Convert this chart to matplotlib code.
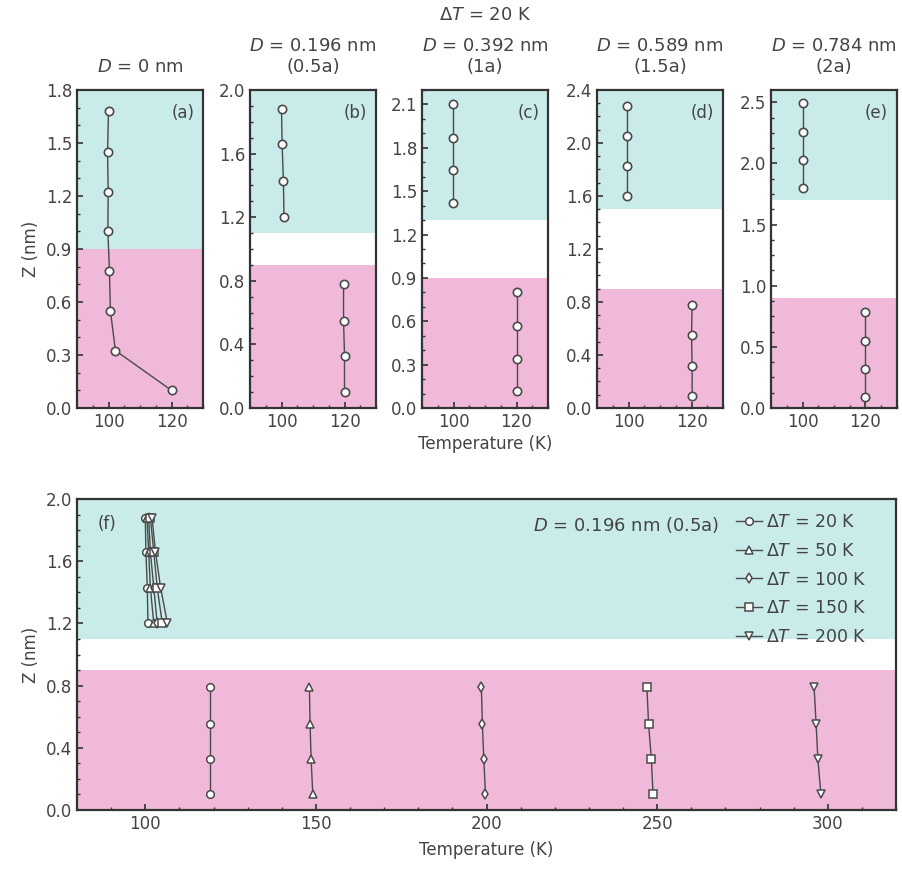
import matplotlib
matplotlib.use('Agg')
import matplotlib.pyplot as plt
from matplotlib.ticker import MultipleLocator

plt.rcParams['font.family'] = ['DejaVu Sans']
plt.rcParams['mathtext.fontset'] = 'dejavusans'

# colours for the two regions
cold_color = '#c9ecea'
hot_color = '#f0b9d9'
edge = '#4a4a4a'

# ---- top row, dT = 20 K, different gap widths D ----
titles = [r'$\mathit{D}$ = 0 nm',
          r'$\mathit{D}$ = 0.196 nm' + '\n(0.5a)',
          r'$\mathit{D}$ = 0.392 nm' + '\n(1a)',
          r'$\mathit{D}$ = 0.589 nm' + '\n(1.5a)',
          r'$\mathit{D}$ = 0.784 nm' + '\n(2a)']
letters = ['(a)', '(b)', '(c)', '(d)', '(e)']
ytops = [1.8, 2.0, 2.2, 2.4, 2.6]
ysteps = [0.3, 0.4, 0.3, 0.4, 0.5]
hot_top = [0.9, 0.9, 0.9, 0.9, 0.9]
cold_bottom = [0.9, 1.1, 1.3, 1.5, 1.7]

# panel (a): one continuous chain
a_z = [0.1, 0.325, 0.55, 0.775, 1.0, 1.225, 1.45, 1.68]
a_t = [120, 102.2, 100.6, 100.3, 99.8, 99.9, 99.7, 100]

# panels (b)-(e): cold block and hot block
cold_z = [[1.2, 1.43, 1.66, 1.88],
          [1.42, 1.645, 1.87, 2.1],
          [1.6, 1.83, 2.055, 2.28],
          [1.8, 2.03, 2.26, 2.49]]
cold_t = [[100.8, 100.6, 100.2, 100],
          [99.8, 99.8, 99.8, 99.8],
          [99.6, 99.6, 99.6, 99.6],
          [100, 100, 100, 100]]
hot_z = [[0.1, 0.33, 0.55, 0.78],
         [0.115, 0.34, 0.57, 0.8],
         [0.09, 0.32, 0.55, 0.775],
         [0.09, 0.32, 0.55, 0.785]]
hot_t = [[120, 120, 119.7, 119.7],
         [120, 120, 120, 120],
         [120.2, 120.2, 120, 120.2],
         [120, 120, 120, 120]]

# ---- panel (f), D = 0.196 nm, different dT ----
f_labels = ['20', '50', '100', '150', '200']
f_markers = ['o', '^', 'd', 's', 'v']
f_cold_z = [1.2, 1.43, 1.66, 1.88]
f_hot_z = [0.1, 0.33, 0.55, 0.79]
f_cold_t = [[100.8, 100.6, 100.2, 100],
            [102.5, 101.5, 101, 100.5],
            [103.5, 102.5, 101.5, 101],
            [105, 103.5, 102.5, 101.5],
            [106.5, 104.5, 103, 102]]
f_hot_t = [[119, 119, 119, 119],
           [149.1, 148.6, 148.3, 148.1],
           [199.7, 199.2, 198.8, 198.5],
           [248.8, 248.3, 247.5, 247],
           [298, 297.1, 296.6, 296]]

W, H = 902, 871
fig = plt.figure(figsize=(W / 100, H / 100), dpi=100)


def px_axes(left, top, right, bottom):
    return fig.add_axes([left / W, 1 - bottom / H, (right - left) / W, (bottom - top) / H])


def style_axes(ax):
    for s in ax.spines.values():
        s.set_linewidth(1.6)
        s.set_color('#333333')
    ax.tick_params(direction='in', which='both', labelsize=12, colors='#333333', labelcolor='#444444')
    ax.tick_params(which='major', length=4, width=1.2)
    ax.tick_params(which='minor', length=2.5, width=1)


lefts = [77, 250, 422, 597, 771]
for i in range(5):
    ax = px_axes(lefts[i], 90, lefts[i] + 126, 408)
    ax.set_xlim(90, 130)
    ax.set_ylim(0, ytops[i])
    ax.axhspan(0, hot_top[i], color=hot_color, lw=0, zorder=0)
    ax.axhspan(cold_bottom[i], ytops[i], color=cold_color, lw=0, zorder=0)
    if i == 0:
        ax.plot(a_t, a_z, '-o', color=edge, lw=1, ms=6, mfc='white', mec=edge, mew=1.2)
    else:
        ax.plot(cold_t[i - 1], cold_z[i - 1], '-o', color=edge, lw=1, ms=6, mfc='white', mec=edge, mew=1.2)
        ax.plot(hot_t[i - 1], hot_z[i - 1], '-o', color=edge, lw=1, ms=6, mfc='white', mec=edge, mew=1.2)
    ax.xaxis.set_major_locator(MultipleLocator(20))
    ax.xaxis.set_minor_locator(MultipleLocator(5))
    ax.yaxis.set_major_locator(MultipleLocator(ysteps[i]))
    ax.yaxis.set_minor_locator(MultipleLocator(ysteps[i] / (3 if ysteps[i] == 0.3 else 4)))
    ax.yaxis.set_major_formatter(plt.FormatStrFormatter('%.1f'))
    style_axes(ax)
    ax.text(0.93, 0.955, letters[i], transform=ax.transAxes, ha='right', va='top', fontsize=12, color='#444444')
    ax.set_title(titles[i], fontsize=13, color='#444444', pad=13, linespacing=1.2)
    if i == 0:
        ax.set_ylabel('Z (nm)', fontsize=12, color='#444444', labelpad=4)
    if i == 2:
        ax.set_xlabel('Temperature (K)', fontsize=12, color='#444444', labelpad=3)

fig.text((422 + 63) / W, 1 - 15 / H, r'$\Delta\mathit{T}$ = 20 K', ha='center', va='center',
         fontsize=13, color='#444444')

# bottom panel
axf = px_axes(77, 499, 896, 810)
axf.set_xlim(80, 320)
axf.set_ylim(0, 2.0)
axf.axhspan(0, 0.9, color=hot_color, lw=0, zorder=0)
axf.axhspan(1.1, 2.0, color=cold_color, lw=0, zorder=0)
for k in range(5):
    axf.plot(f_cold_t[k], f_cold_z, '-', marker=f_markers[k], color=edge, lw=1, ms=5.5,
             mfc='white', mec=edge, mew=1.1,
             label=r'$\Delta\mathit{T}$ = ' + f_labels[k] + ' K')
    axf.plot(f_hot_t[k], f_hot_z, '-', marker=f_markers[k], color=edge, lw=1, ms=5.5,
             mfc='white', mec=edge, mew=1.1)
axf.xaxis.set_major_locator(MultipleLocator(50))
axf.xaxis.set_minor_locator(MultipleLocator(10))
axf.yaxis.set_major_locator(MultipleLocator(0.4))
axf.yaxis.set_minor_locator(MultipleLocator(0.1))
axf.yaxis.set_major_formatter(plt.FormatStrFormatter('%.1f'))
style_axes(axf)
axf.set_xlabel('Temperature (K)', fontsize=12, color='#444444', labelpad=6)
axf.set_ylabel('Z (nm)', fontsize=12, color='#444444', labelpad=4)
axf.text(0.025, 0.95, '(f)', transform=axf.transAxes, ha='left', va='top', fontsize=12, color='#444444')
axf.text(0.785, 0.915, r'$\mathit{D}$ = 0.196 nm (0.5a)', transform=axf.transAxes, ha='right',
         va='center', fontsize=13, color='#444444')
leg = axf.legend(loc='upper left', bbox_to_anchor=(0.805, 0.955), frameon=False, fontsize=12.5,
                 handlelength=1.5, handletextpad=0.2, labelspacing=0.62, borderpad=0, borderaxespad=0)
for t in leg.get_texts():
    t.set_color('#444444')

fig.savefig('out.png', dpi=100)
